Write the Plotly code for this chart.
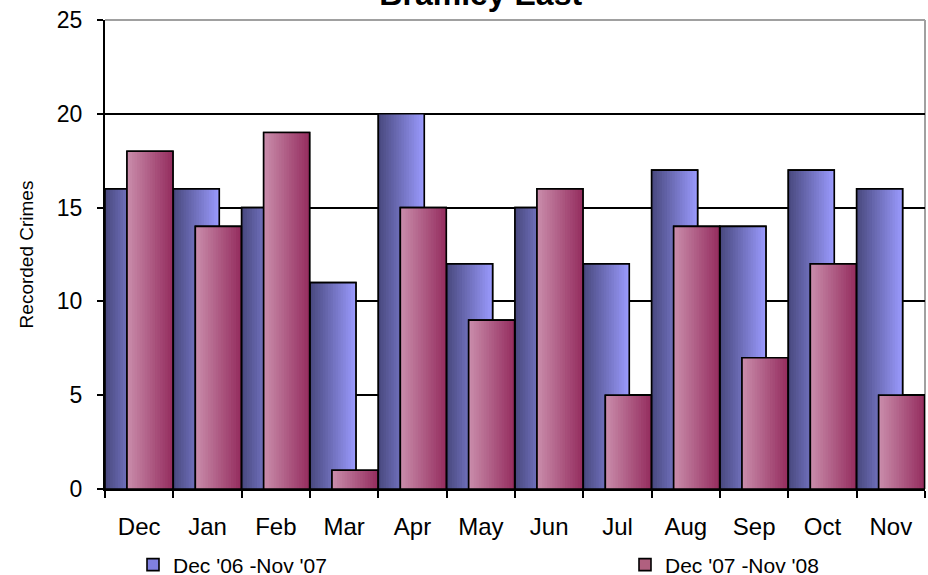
import plotly.graph_objects as go

months = ["Dec", "Jan", "Feb", "Mar", "Apr", "May", "Jun", "Jul", "Aug", "Sep", "Oct", "Nov"]
series1_name = "Dec '06 -Nov '07"
series1 = [16, 16, 15, 11, 20, 12, 15, 12, 17, 14, 17, 16]
series2_name = "Dec '07 -Nov '08"
series2 = [18, 14, 19, 1, 15, 9, 16, 5, 14, 7, 12, 5]
y_ticks = [0, 5, 10, 15, 20, 25]

FONT = "Liberation Sans, Arial, sans-serif"
BAR_W = 0.672
N_STRIPS = 18


def lerp(c1, c2, t):
    return "rgb(%d,%d,%d)" % tuple(round(a + (b - a) * t) for a, b in zip(c1, c2))


def add_series(fig, name, values, offset, c_left, c_right, c_mid, legend):
    # base bar (legend entry)
    fig.add_trace(go.Bar(x=months, y=values, name=name, offset=offset, width=BAR_W,
                         marker=dict(color=c_mid, line=dict(color="black", width=1.6)),
                         showlegend=True, legend=legend, hoverinfo="skip"))
    # gradient strips
    step = BAR_W / N_STRIPS
    for i in range(N_STRIPS):
        t = (i + 0.5) / N_STRIPS
        fig.add_trace(go.Bar(x=months, y=values, offset=offset + i * step,
                             width=BAR_W - i * step,
                             marker=dict(color=lerp(c_left, c_right, t), line=dict(width=0)),
                             showlegend=False, hoverinfo="skip"))
    # outline on top
    fig.add_trace(go.Bar(x=months, y=values, offset=offset, width=BAR_W,
                         marker=dict(color="rgba(0,0,0,0)", line=dict(color="black", width=1.6)),
                         showlegend=False, hoverinfo="skip"))


fig = go.Figure()
add_series(fig, series1_name, series1, -0.5, (72, 72, 125), (155, 155, 255), "#8080e0", "legend")
add_series(fig, series2_name, series2, -0.5 + 0.322, (202, 142, 172), (148, 44, 94), "#b0607f", "legend2")

legend_common = dict(orientation="h", xref="container", yref="container",
                     xanchor="left", yanchor="middle", y=1 - 565 / 575,
                     font=dict(size=21, family=FONT, color="black"),
                     bgcolor="rgba(0,0,0,0)", itemclick=False, borderwidth=0)

fig.update_layout(
    width=928, height=575,
    barmode="overlay",
    paper_bgcolor="white", plot_bgcolor="white",
    margin=dict(l=105, r=3, t=20, b=86),
    font=dict(family=FONT, color="black"),
    title=dict(text="<b>Bramley East</b>", font=dict(size=32, family=FONT, color="black"),
               x=0.518, xanchor="center", xref="container",
               y=1 - 5 / 575, yanchor="bottom", yref="container"),
    showlegend=True,
    legend=dict(legend_common, x=133 / 928),
    legend2=dict(legend_common, x=625 / 928),
    xaxis=dict(type="category", tickson="boundaries", ticks="outside", ticklen=7,
               tickwidth=1.5, tickcolor="black", showline=True, linecolor="black",
               linewidth=2, showgrid=False, tickfont=dict(size=24, family=FONT),
               ticklabelstandoff=15, range=[-0.5, 11.5], automargin=False),
    yaxis=dict(range=[0, 25], tickvals=y_ticks, ticks="outside", ticklen=6,
               tickwidth=1.5, tickcolor="black", showline=True, linecolor="black",
               linewidth=2, showgrid=True, gridcolor="black", gridwidth=1.5,
               zeroline=False, tickfont=dict(size=23, family=FONT),
               ticklabelstandoff=10, automargin=False,
               title=dict(text="Recorded Crimes", font=dict(size=19, family=FONT), standoff=18)),
    shapes=[
        dict(type="line", xref="paper", yref="paper", x0=0, x1=1, y0=1, y1=1,
             line=dict(color="#a0a0a0", width=2), layer="above"),
        dict(type="line", xref="paper", yref="paper", x0=1, x1=1, y0=0, y1=1,
             line=dict(color="#a0a0a0", width=2), layer="below"),
    ],
)

fig.write_html("out.html", config={"displayModeBar": False},
               post_script="document.body.style.margin='0';document.body.style.overflow='hidden';")
